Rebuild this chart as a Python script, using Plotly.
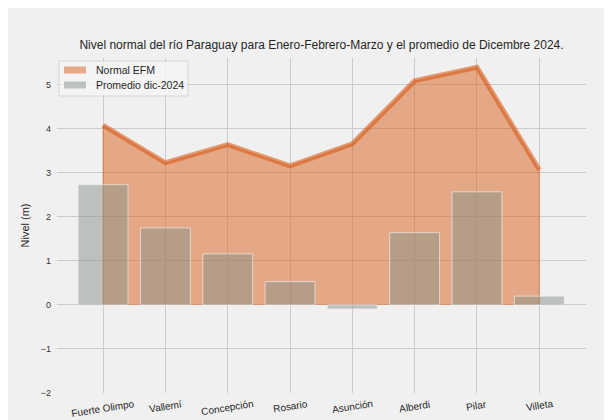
import plotly.graph_objects as go

stations = ["Fuerte Olimpo", "Vallemí", "Concepción", "Rosario", "Asunción", "Alberdi", "Pilar", "Villeta"]
normal_efm = [4.08, 3.23, 3.64, 3.16, 3.66, 5.09, 5.40, 3.07]
promedio_dic = [2.73, 1.75, 1.16, 0.53, -0.09, 1.64, 2.57, 0.20]
y_ticks = [-2, -1, 0, 1, 2, 3, 4, 5]
legend_labels = ["Normal EFM", "Promedio dic-2024"]

# page body adds an 8px margin; figure sized to fill the rest of the window
W, H = 604, 412
L, R, T, B = 49, 26, 50, 27
pw, ph = W - L - R, H - T - B

FILL = "rgba(217,95,30,0.5)"
LINE = "rgba(217,95,30,0.6)"
BAR = "rgba(135,145,137,0.5)"
FONT = "Liberation Sans"
TXT = "#262626"

xr = [-0.74, 7.75]
yr = [-2, 5.61]


def px(fx):
    return (fx - L) / pw


def py(fy):
    return (H - B - fy) / ph


fig = go.Figure()

# area polygon (fill between line and zero)
fig.add_trace(go.Scatter(
    x=[stations[0]] + stations + [stations[-1]],
    y=[0] + normal_efm + [0],
    fill="toself", fillcolor=FILL,
    line=dict(color=FILL, width=1.2),
    mode="lines", name=legend_labels[0], hoverinfo="skip",
    showlegend=False, xaxis="x", yaxis="y",
))
fig.add_trace(go.Scatter(
    x=stations, y=normal_efm, mode="lines",
    line=dict(color=LINE, width=5),
    showlegend=False, xaxis="x", yaxis="y",
))
fig.add_trace(go.Bar(
    x=stations, y=promedio_dic, width=0.8,
    marker=dict(color=BAR, line=dict(color="rgba(235,235,235,0.7)", width=1)),
    name=legend_labels[1], showlegend=False, xaxis="x2", yaxis="y2",
))

# x tick labels, centred under each category and slightly rotated
annotations = []
for s in stations:
    annotations.append(dict(
        x=s, xref="x", y=py(H - B + 3), yref="paper",
        text=s, showarrow=False, textangle=-9,
        xanchor="center", yanchor="top",
        font=dict(size=10, color=TXT, family=FONT),
    ))

# legend (drawn by hand to match the patch style)
leg_colors = [FILL, BAR]
shapes = [dict(type="rect", xref="paper", yref="paper", layer="above",
               x0=px(51), x1=px(180), y0=py(88), y1=py(53),
               fillcolor="rgba(244,244,244,0.85)", line=dict(color="#d4d4d4", width=1))]
for i, (lab, col) in enumerate(zip(legend_labels, leg_colors)):
    cy = 62 + 15 * i
    shapes.append(dict(type="rect", xref="paper", yref="paper", layer="above",
                       x0=px(56), x1=px(78), y0=py(cy + 3.5), y1=py(cy - 3.5),
                       fillcolor=col, line=dict(width=0)))
    annotations.append(dict(x=px(86), y=py(cy), xref="paper", yref="paper",
                            text=lab, showarrow=False, xanchor="left", yanchor="middle",
                            font=dict(size=10.5, color=TXT, family=FONT)))

fig.update_layout(
    width=W, height=H,
    margin=dict(l=L, r=R, t=T, b=B, autoexpand=False),
    paper_bgcolor="#f0f0f0", plot_bgcolor="#f0f0f0",
    font=dict(family=FONT, size=10, color="#333333"),
    title=dict(text="Nivel normal del río Paraguay para Enero-Febrero-Marzo y el promedio de Dicembre 2024.",
               x=(L + pw / 2) / W, xanchor="center", y=1 - 37 / H, yanchor="middle",
               yref="container", font=dict(size=12, color=TXT, family=FONT)),
    xaxis=dict(type="category", categoryarray=stations, range=xr, showgrid=True,
               gridcolor="#cbcbcb", gridwidth=1.3, zeroline=False, showline=False,
               ticks="", showticklabels=False, automargin=False),
    yaxis=dict(range=yr, tickvals=y_ticks, showgrid=True, gridcolor="#cbcbcb", gridwidth=1.3,
               zeroline=False, showline=False, ticks="", tickfont=dict(size=9, color="#333333"),
               title=dict(text="Nivel (m)", font=dict(size=11, color=TXT), standoff=8),
               ticklabelstandoff=5, automargin=False),
    xaxis2=dict(type="category", categoryarray=stations, range=xr, overlaying="x", anchor="y2",
                visible=False),
    yaxis2=dict(range=yr, overlaying="y", anchor="x2", visible=False),
    shapes=shapes,
    annotations=annotations,
    showlegend=False,
)

fig.write_html("out.html")
